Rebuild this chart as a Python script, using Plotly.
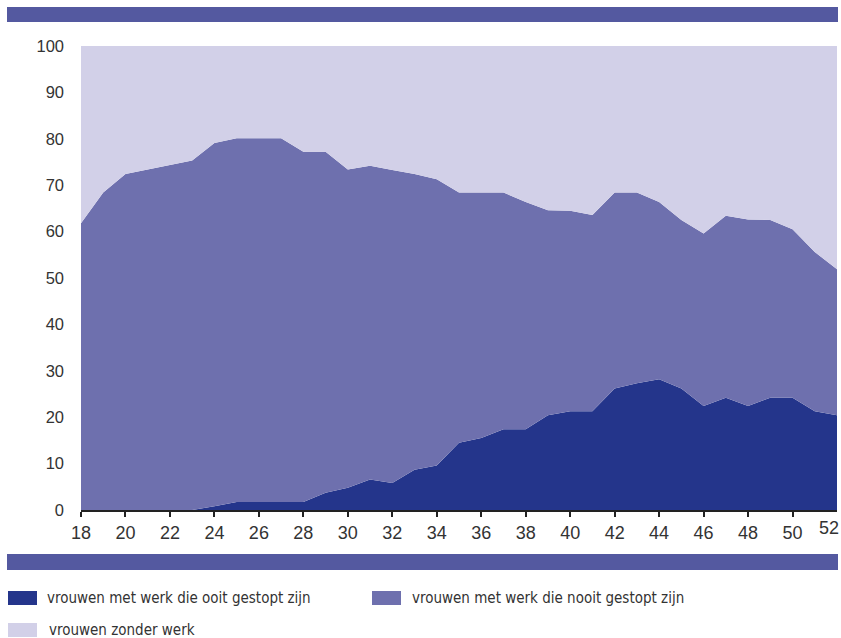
import plotly.graph_objects as go

ages = list(range(18, 53))
ooit = [0, 0, 0, 0, 0, 0, 0.8, 1.7, 1.7, 1.7, 1.7, 3.7, 4.8, 6.6, 5.8, 8.7, 9.6,
        14.5, 15.5, 17.4, 17.4, 20.4, 21.3, 21.3, 26.2, 27.3, 28.2, 26.2, 22.4,
        24.2, 22.4, 24.2, 24.2, 21.3, 20.4]
totaal_werk = [61.8, 68.4, 72.4, 73.4, 74.3, 75.3, 79.1, 80.1, 80.1, 80.1, 77.2,
               77.2, 73.4, 74.2, 73.3, 72.4, 71.3, 68.4, 68.4, 68.4, 66.4, 64.6,
               64.5, 63.6, 68.4, 68.4, 66.4, 62.5, 59.6, 63.4, 62.6, 62.5, 60.5,
               55.6, 51.9]
nooit = [round(t - o, 1) for t, o in zip(totaal_werk, ooit)]
zonder = [round(100 - t, 1) for t in totaal_werk]

series_names = ["vrouwen met werk die ooit gestopt zijn",
                "vrouwen met werk die nooit gestopt zijn",
                "vrouwen zonder werk"]
series_values = [ooit, nooit, zonder]
colors = ["#24358B", "#6E70AE", "#D2D0E8"]
band_color = "#5459A0"

x_ticks = list(range(18, 53, 2))
y_ticks = list(range(0, 101, 10))

fig = go.Figure()
for name, vals, col in zip(series_names, series_values, colors):
    fig.add_trace(go.Scatter(
        x=ages, y=vals, name=name, mode="lines", stackgroup="one",
        line=dict(width=0, color=col), fillcolor=col, showlegend=False,
        hoverinfo="x+y+name",
    ))

W, H = 841, 638
L, R, T, B = 81, 4, 46, 128
pw, ph = W - L - R, H - T - B


def px(x):
    return (x - L) / pw


def py(y):
    return (H - B - y) / ph


shapes = []
for y0, y1 in [(7, 22), (554, 570)]:
    shapes.append(dict(type="rect", xref="paper", yref="paper",
                       x0=px(7), x1=px(838), y0=py(y1), y1=py(y0),
                       fillcolor=band_color, line=dict(width=0), layer="above"))

legend_font = dict(family="DejaVu Sans Condensed, Liberation Sans Narrow, sans-serif",
                   size=15, color="#333333")
annotations = []
legend_pos = [(8, 591, 45), (372, 591, 410), (8, 623, 47)]
for (sx, sy, tx), name, col in zip(legend_pos, series_names, colors):
    shapes.append(dict(type="rect", xref="paper", yref="paper",
                       x0=px(sx), x1=px(sx + 29), y0=py(sy + 14), y1=py(sy),
                       fillcolor=col, line=dict(width=0)))
    annotations.append(dict(xref="paper", yref="paper", x=px(tx), y=py(sy + 7),
                            text=name, showarrow=False, xanchor="left",
                            yanchor="middle", font=legend_font))

x_font = dict(size=18, color="#333333")
# last x label sits just inside the right edge
annotations.append(dict(xref="x", yref="paper", x=x_ticks[-1], y=0, yshift=-6,
                        xshift=-8, text=str(x_ticks[-1]), showarrow=False,
                        xanchor="center", yanchor="top", font=x_font))

fig.update_layout(
    width=W, height=H,
    margin=dict(l=L, r=R, t=T, b=B),
    paper_bgcolor="white", plot_bgcolor="white",
    shapes=shapes, annotations=annotations,
    font=dict(family="Liberation Sans, Arial, sans-serif", size=16, color="#333333"),
    xaxis=dict(range=[18, 52], tickvals=x_ticks[:-1],
               ticktext=[str(v) for v in x_ticks[:-1]],
               showgrid=False, zeroline=False, showline=True, linecolor="#222222",
               linewidth=2, ticks="outside", ticklen=5, tickwidth=1.5,
               tickcolor="#222222", tickfont=x_font),
    yaxis=dict(range=[0, 100], tickvals=y_ticks, showgrid=False, zeroline=False,
               showline=False, ticks="", ticklabelstandoff=16,
               tickfont=dict(size=16.5, color="#333333")),
)

fig.write_html("out.html",
               config={"displayModeBar": False},
               post_script="document.body.style.margin='0';"
                           "document.body.style.overflow='hidden';")
